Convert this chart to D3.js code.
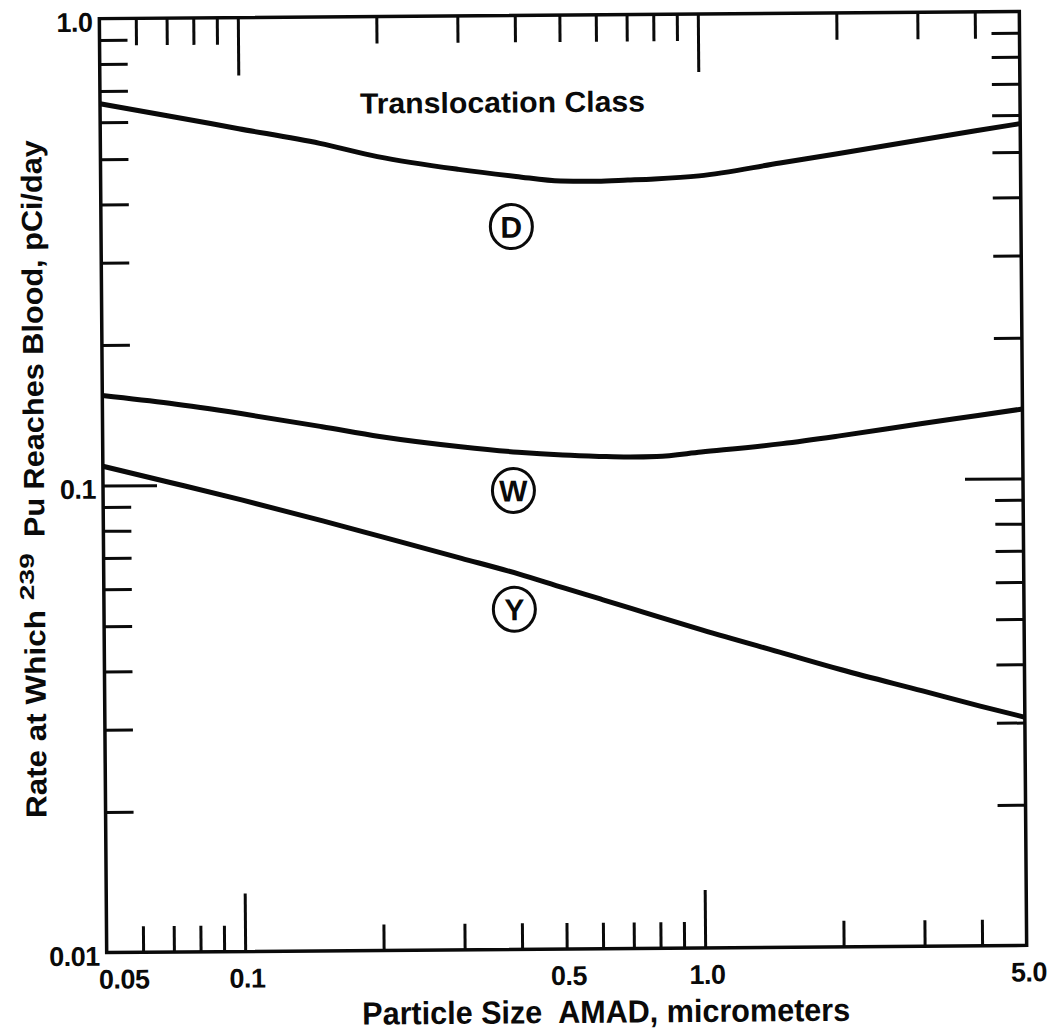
<!DOCTYPE html>
<html><head><meta charset="utf-8">
<script src="https://cdn.jsdelivr.net/npm/d3@7"></script>
<style>html,body{margin:0;padding:0;background:#fff;} svg{display:block;}</style>
</head><body><svg id="c" width="1057" height="1034"></svg>
<script>
// ---- data ----
const particleSize = [0.05, 0.07, 0.1, 0.15, 0.2, 0.3, 0.4, 0.5, 0.6, 0.7, 0.8, 1.0, 1.5, 2, 3, 4, 5];
const classD = [0.657, 0.618, 0.578, 0.536, 0.501, 0.469, 0.452, 0.441, 0.440, 0.442, 0.444, 0.450, 0.478, 0.499, 0.532, 0.556, 0.575];
const classW = [0.156, 0.1497, 0.1419, 0.1326, 0.1261, 0.1195, 0.116, 0.1142, 0.1133, 0.1128, 0.1130, 0.1153, 0.1198, 0.1242, 0.1314, 0.1366, 0.1408];
const classY = [0.110, 0.1013, 0.0927, 0.0833, 0.077, 0.0689, 0.0636, 0.0593, 0.0561, 0.0535, 0.0513, 0.0479, 0.0426, 0.0392, 0.0352, 0.0326, 0.0308];

const seriesNames = ["D", "W", "Y"];
const labelAtX = [0.39, 0.39, 0.39];
const labelAtY = [0.353, 0.0961, 0.0535];

const xMinorTicks = [0.06, 0.07, 0.08, 0.09, 0.2, 0.3, 0.4, 0.5, 0.6, 0.7, 0.8, 0.9, 2, 3, 4];
const xMajorTicks = [0.1, 1.0];
const xLabelValues = [0.05, 0.1, 0.5, 1.0, 5.0];
const xLabelTexts = ["0.05", "0.1", "0.5", "1.0", "5.0"];

const yMinorTicks = [0.02, 0.03, 0.04, 0.05, 0.06, 0.07, 0.08, 0.09, 0.2, 0.3, 0.4, 0.5, 0.6, 0.7, 0.8, 0.9];
const yMajorTicks = [0.1];
const yLabelValues = [1.0, 0.1, 0.01];
const yLabelTexts = ["1.0", "0.1", "0.01"];

const titleText = "Translocation Class";
const xTitle = "Particle Size\u00A0 AMAD, micrometers";
const yTitleA = "Rate at Which";
const yTitleSup = "239";
const yTitleB = "Pu Reaches Blood, pCi/day";

// ---- drawing ----
const W = 1057, H = 1034;
const m = {left: 103, right: 1023, top: 15, bottom: 949};
const x = d3.scaleLog().domain([0.05, 5]).range([m.left, m.right]);
const y = d3.scaleLog().domain([0.01, 1]).range([m.bottom, m.top]);
const ink = "#0a0a0a";
const font = "'Liberation Sans', Arial, Helvetica, sans-serif";

const svg = d3.select("#c");
svg.append("rect").attr("width", W).attr("height", H).attr("fill", "#fff");
const g = svg.append("g").attr("transform", "rotate(-0.45,563,482)");

function ticks(axis, transform) {
  const a = g.append("g").attr("transform", transform).call(axis);
  a.select(".domain").remove();
  a.selectAll("text").remove();
  a.selectAll("line").attr("stroke", ink).attr("stroke-width", 3);
}
ticks(d3.axisBottom(x).tickValues(xMinorTicks).tickSize(-26), `translate(0,${m.bottom})`);
ticks(d3.axisBottom(x).tickValues(xMajorTicks).tickSize(-58), `translate(0,${m.bottom})`);
ticks(d3.axisTop(x).tickValues(xMinorTicks).tickSize(-27), `translate(0,${m.top})`);
ticks(d3.axisTop(x).tickValues(xMajorTicks).tickSize(-58), `translate(0,${m.top})`);
ticks(d3.axisLeft(y).tickValues(yMinorTicks).tickSize(-28), `translate(${m.left},0)`);
ticks(d3.axisLeft(y).tickValues(yMajorTicks).tickSize(-54), `translate(${m.left},0)`);
ticks(d3.axisRight(y).tickValues(yMinorTicks).tickSize(-28), `translate(${m.right},0)`);
ticks(d3.axisRight(y).tickValues(yMajorTicks).tickSize(-58), `translate(${m.right},0)`);

g.append("rect").attr("x", m.left).attr("y", m.top)
  .attr("width", m.right - m.left).attr("height", m.bottom - m.top)
  .attr("fill", "none").attr("stroke", ink).attr("stroke-width", 3.5);

// curves
const line = d3.line().x(d => x(d[0])).y(d => y(d[1])).curve(d3.curveMonotoneX);
[classD, classW, classY].forEach(s => {
  g.append("path").datum(particleSize.map((p, i) => [p, s[i]]))
    .attr("d", line).attr("fill", "none").attr("stroke", ink).attr("stroke-width", 5);
});

// circled class labels
seriesNames.forEach((n, i) => {
  const cx = x(labelAtX[i]), cy = y(labelAtY[i]);
  g.append("ellipse").attr("cx", cx).attr("cy", cy).attr("rx", 21).attr("ry", 22)
    .attr("fill", "#fff").attr("stroke", ink).attr("stroke-width", 3);
  g.append("text").attr("x", cx).attr("y", cy + 11).attr("text-anchor", "middle")
    .attr("font-family", font).attr("font-weight", "bold").attr("font-size", 30)
    .attr("fill", ink).text(n);
});

// tick labels
g.selectAll(".xl").data(xLabelValues).enter().append("text")
  .attr("x", (d, i) => i === 0 ? x(d) - 8 : x(d) + 2)
  .attr("y", m.bottom + 36)
  .attr("text-anchor", (d, i) => i === 0 ? "start" : "middle")
  .attr("font-family", font).attr("font-weight", "bold").attr("font-size", 27)
  .attr("letter-spacing", -0.5).attr("fill", ink)
  .text((d, i) => xLabelTexts[i]);
g.selectAll(".yl").data(yLabelValues).enter().append("text")
  .attr("x", m.left - 7).attr("y", d => y(d) + 13)
  .attr("text-anchor", "end")
  .attr("font-family", font).attr("font-weight", "bold").attr("font-size", 27)
  .attr("letter-spacing", -0.5).attr("fill", ink)
  .text((d, i) => yLabelTexts[i]);

// titles
function label(txt, tx, ty, rot, size, len) {
  g.append("text").attr("transform", `translate(${tx},${ty}) rotate(${rot})`)
    .attr("font-family", font).attr("font-weight", "bold").attr("font-size", size)
    .attr("fill", ink).attr("textLength", len).attr("lengthAdjust", "spacingAndGlyphs")
    .text(txt);
}
label(titleText, 363, 112, 0, 29, 285);
label(xTitle, 358, 1023, 0, 32, 488);
label(yTitleA, 44, 814, -90, 29, 208);
label(yTitleSup, 33, 596, -90, 20, 47);
label(yTitleB, 44, 533, -90, 29, 397);
</script></body></html>
